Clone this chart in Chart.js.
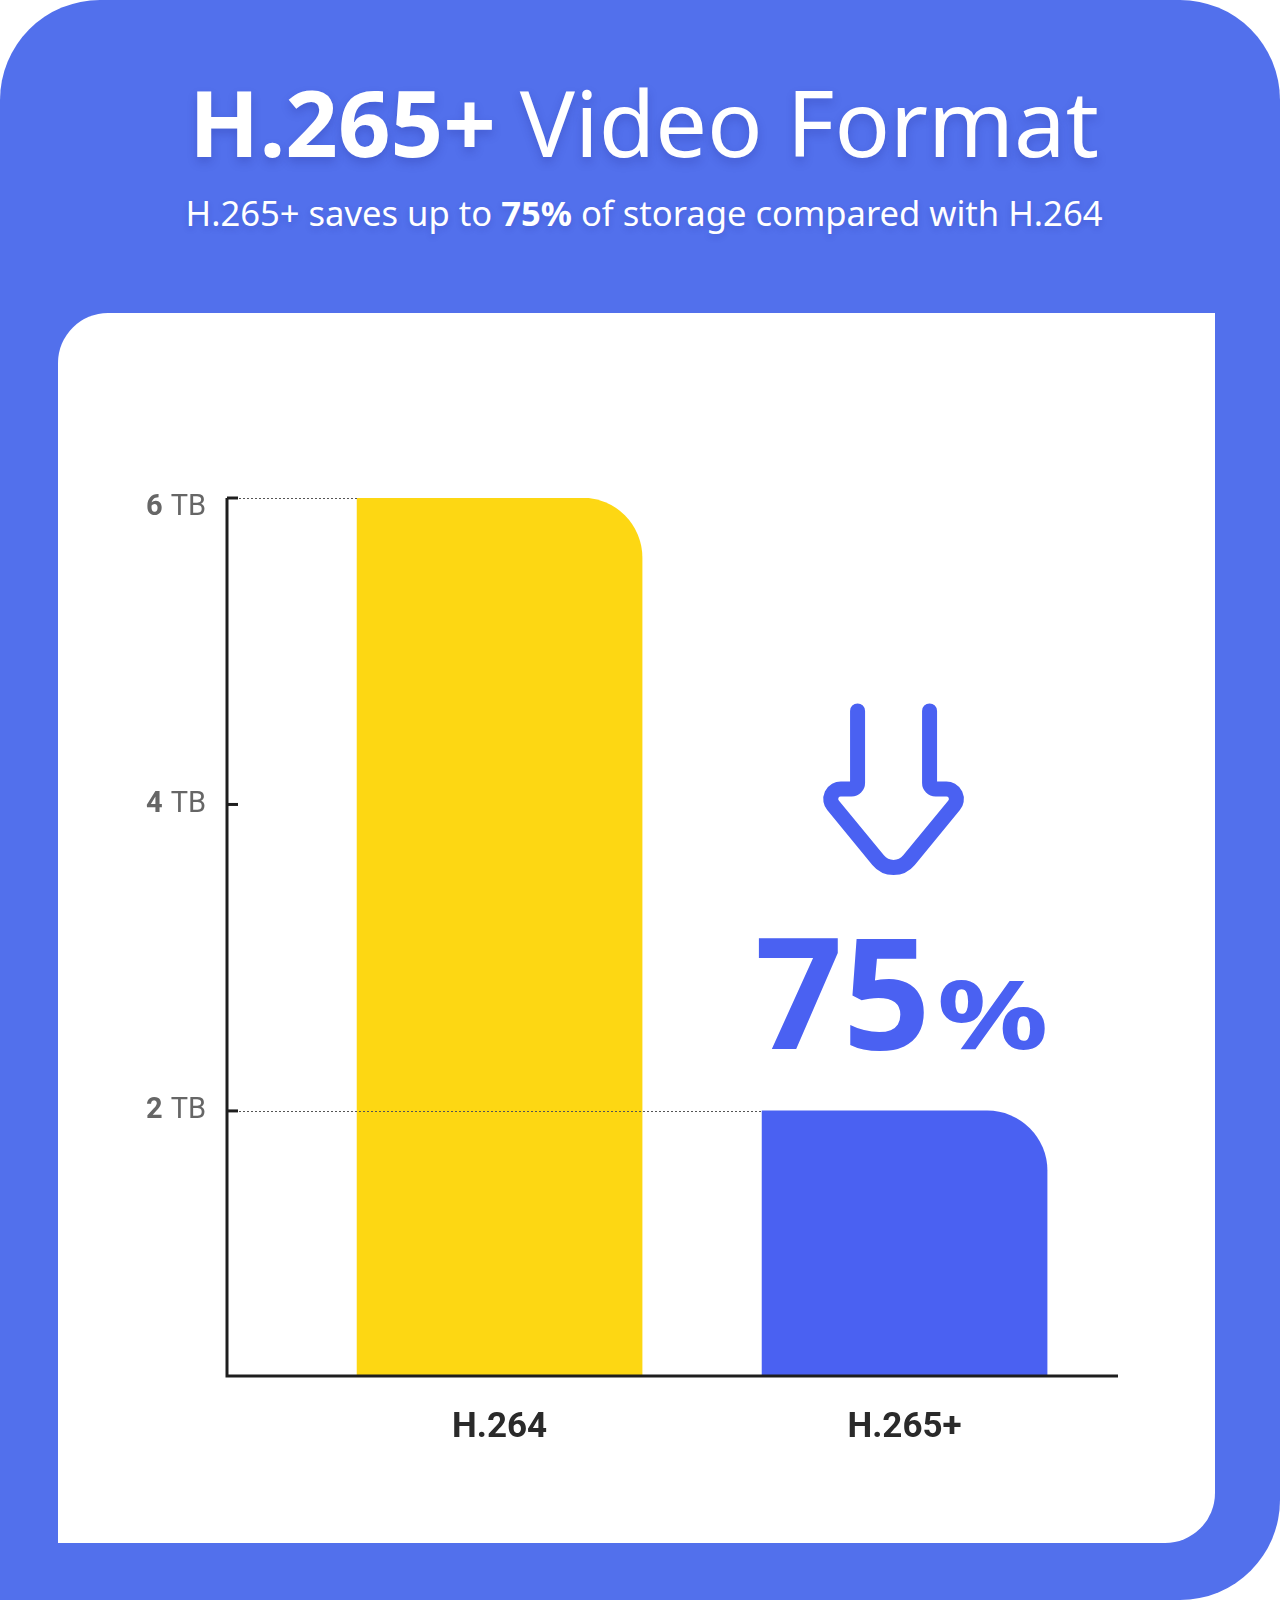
<!DOCTYPE html>
<html>
<head>
<meta charset="utf-8">
<script src="https://cdn.jsdelivr.net/npm/chart.js@4.4.0/dist/chart.umd.min.js"></script>
<style>
html, body { margin: 0; padding: 0; background: #fff; }
#page { position: relative; width: 1280px; height: 1600px; background: #5270EC; border-radius: 100px 100px 100px 0; overflow: hidden; font-family: 'Noto Sans', sans-serif; }
#title { position: absolute; left: 4px; width: 1280px; top: 76px; text-align: center; color: #fff; font-size: 92px; line-height: 92px; white-space: nowrap; text-shadow: 0 5px 10px rgba(30, 40, 140, 0.25); }
#title b { font-weight: 700; }
#title span { font-weight: 400; }
#subtitle { position: absolute; left: 4px; width: 1280px; top: 196px; text-align: center; color: #fff; font-size: 34.6px; line-height: 34.6px; white-space: nowrap; text-shadow: 0 3px 6px rgba(30, 40, 140, 0.2); }
#panel { position: absolute; left: 58px; top: 313px; width: 1157px; height: 1230px; background: #fff; border-radius: 50px 0 50px 0; }
#chartBox { position: absolute; left: 0; top: 0; width: 1280px; height: 1600px; }
</style>
</head>
<body>
<div id="page">
  <div id="title"><b>H.265+</b> <span>Video Format</span></div>
  <div id="subtitle">H.265+ saves up to <b>75%</b> of storage compared with H.264</div>
  <div id="panel"></div>
  <div id="chartBox"><canvas id="storageChart" width="1280" height="1600"></canvas></div>
</div>
<script>
var categories = ['H.264', 'H.265+'];
var storageTB = [6, 2];
var barColors = ['#FDD713', '#4A61F2'];
var yTicks = [2, 4, 6];
var yTickUnit = 'TB';
var savingLabel = '75';

var yMin = 0.27;
var yMax = 6;

var ctx = document.getElementById('storageChart').getContext('2d');

var decorPlugin = {
    id: 'decor',
    afterDatasetsDraw: function (chart) {
        var c = chart.ctx;
        var area = chart.chartArea;
        var xs = chart.scales.x;
        var ys = chart.scales.y;
        var bars = chart.getDatasetMeta(0).data;
        c.save();

        // dotted guide from the axis to the bar that reaches that tick
        c.strokeStyle = '#555';
        c.lineWidth = 1;
        c.setLineDash([2, 2]);
        yTicks.forEach(function (v) {
            var i = storageTB.indexOf(v);
            if (i < 0) return;
            var py = Math.round(ys.getPixelForValue(v)) + 0.5;
            var bx = bars[i].x - bars[i].width / 2;
            c.beginPath();
            c.moveTo(area.left, py);
            c.lineTo(bx, py);
            c.stroke();
        });
        c.setLineDash([]);

        // axis lines
        c.strokeStyle = '#1e1e1e';
        c.lineWidth = 3;
        c.beginPath();
        c.moveTo(area.left, area.top);
        c.lineTo(area.left, area.bottom);
        c.lineTo(area.right, area.bottom);
        c.stroke();

        // inward tick marks + labels
        yTicks.forEach(function (v) {
            var py = ys.getPixelForValue(v);
            c.beginPath();
            c.moveTo(area.left, py);
            c.lineTo(area.left + 11, py);
            c.stroke();

            var ly = Math.max(py, area.top + 10);
            c.fillStyle = '#666';
            c.textBaseline = 'middle';
            c.textAlign = 'right';
            c.font = '400 29px Roboto';
            var right = area.left - 21;
            c.fillText(yTickUnit, right, ly);
            var uw = c.measureText(yTickUnit).width;
            c.font = '700 29px Roboto';
            c.fillText(String(v), right - uw - 8, ly);
        });

        // category labels
        c.fillStyle = '#2a2a2a';
        c.font = '700 35px Roboto';
        c.textAlign = 'center';
        c.textBaseline = 'alphabetic';
        categories.forEach(function (name, i) {
            c.fillText(name, xs.getPixelForValue(i + 1), area.bottom + 61);
        });

        // down arrow and saving above the smaller bar
        var last = bars[bars.length - 1];
        var cx = last.x - 11;
        var T = last.y;
        c.strokeStyle = barColors[1];
        c.lineWidth = 15;
        c.lineCap = 'round';
        c.lineJoin = 'round';
        c.beginPath();
        c.moveTo(cx - 36, T - 400);
        c.arcTo(cx - 36, T - 322, cx - 74, T - 322, 6);
        c.arcTo(cx - 74, T - 322, cx, T - 232, 10);
        c.arcTo(cx, T - 232, cx + 74, T - 322, 20);
        c.arcTo(cx + 74, T - 322, cx + 36, T - 322, 10);
        c.arcTo(cx + 36, T - 322, cx + 36, T - 400, 6);
        c.lineTo(cx + 36, T - 400);
        c.stroke();

        c.fillStyle = barColors[1];
        c.textAlign = 'left';
        var pctStretch = 1.3;
        c.font = '700 154px "Noto Sans"';
        var w75 = c.measureText(savingLabel).width;
        c.font = '700 95px "Noto Sans"';
        var wp = c.measureText('%').width * pctStretch;
        var gap = 6;
        var start = last.x - 3 - (w75 + gap + wp) / 2;
        c.font = '700 154px "Noto Sans"';
        c.fillText(savingLabel, start, T - 62);
        c.font = '700 95px "Noto Sans"';
        c.translate(start + w75 + gap, T - 62);
        c.scale(pctStretch, 1);
        c.fillText('%', 0, 0);

        c.restore();
    }
};

var storageChart = new Chart(ctx, {
    type: 'bar',
    data: {
        datasets: [{
            label: 'Storage',
            data: categories.map(function (name, i) { return { x: i + 1, y: storageTB[i] }; }),
            backgroundColor: barColors,
            borderWidth: 0,
            borderRadius: { topLeft: 0, topRight: 60, bottomLeft: 0, bottomRight: 0 },
            borderSkipped: false,
            barThickness: 285,
            base: yMin
        }]
    },
    options: {
        responsive: false,
        animation: false,
        layout: { padding: { left: 227, top: 498, right: 162, bottom: 224 } },
        plugins: {
            legend: { display: false },
            tooltip: { enabled: false }
        },
        scales: {
            x: { type: 'linear', display: false, offset: false, min: 0.327, max: 2.527 },
            y: { display: false, min: yMin, max: yMax }
        }
    },
    plugins: [decorPlugin]
});
</script>
</body>
</html>
